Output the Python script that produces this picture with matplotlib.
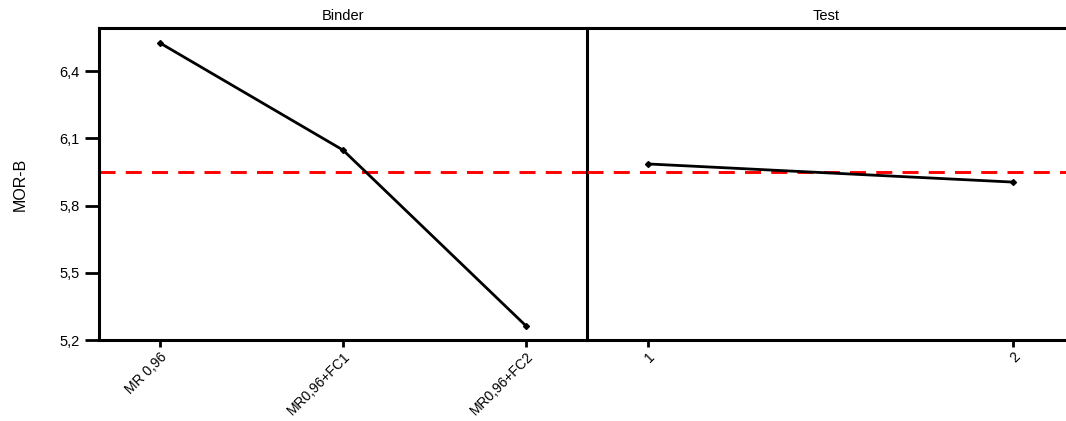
import numpy as np
import matplotlib.pyplot as plt

plt.rcParams['font.family'] = ['Liberation Sans', 'DejaVu Sans']

binder_labels = ['MR 0,96', 'MR0,96+FC1', 'MR0,96+FC2']
binder_vals = [6.526, 6.048, 5.263]
test_labels = ['1', '2']
test_vals = [5.986, 5.905]
grand_mean = 5.948
yticks = [5.2, 5.5, 5.8, 6.1, 6.4]
ytick_labels = ['5,2', '5,5', '5,8', '6,1', '6,4']

fig = plt.figure(figsize=(10.66, 4.21), dpi=100)
W, H = 1066, 421
bot = (H - 340) / H
hgt = (340 - 28) / H
ax1 = fig.add_axes([99 / W, bot, (587 - 99) / W, hgt])
ax2 = fig.add_axes([587 / W, bot, (1075 - 587) / W, hgt])

ymin, ymax = 5.2, 6.593
lw_sp = 2.2

def style(ax):
    ax.set_ylim(ymin, ymax)
    ax.patch.set_alpha(0)
    for s in ax.spines.values():
        s.set_linewidth(lw_sp)
    ax.tick_params(axis='x', length=5, width=2, labelsize=10, pad=2)
    ax.tick_params(axis='y', length=10, width=2, labelsize=10.5, pad=4)
    ax.axhline(grand_mean, color='#ff0000', linestyle=(0, (5.5, 3.5)), lw=2.1, zorder=1)

# Binder panel
x1 = np.arange(len(binder_vals))
ax1.plot(x1, binder_vals, color='black', lw=2, marker='D', ms=3, zorder=3)
ax1.set_xlim(-61 / 183, 2 + 61 / 183)
style(ax1)
ax1.set_xticks(x1)
ax1.set_xticklabels(binder_labels, rotation=45, ha='right', va='top', rotation_mode='anchor')
ax1.set_yticks(yticks)
ax1.set_yticklabels(ytick_labels)
ax1.set_ylabel('MOR-B', fontsize=11.5, labelpad=23)
ax1.set_title('Binder', fontsize=10.5, pad=6)

# Test panel
x2 = np.arange(1, len(test_vals) + 1)
ax2.plot(x2, test_vals, color='black', lw=2, marker='D', ms=3, zorder=3)
ax2.set_xlim(1 - 61 / 365, 1 + (1075 - 648) / 365)
style(ax2)
ax2.spines['right'].set_visible(False)
ax2.spines['left'].set_visible(False)
ax2.set_xticks(x2)
ax2.set_xticklabels(test_labels, rotation=45, ha='right', va='top', rotation_mode='anchor')
ax2.set_yticks([])
ax2.set_title('Test', fontsize=10.5, pad=6, x=(826 - 587) / (1075 - 587))

fig.savefig('out.png', dpi=100)
